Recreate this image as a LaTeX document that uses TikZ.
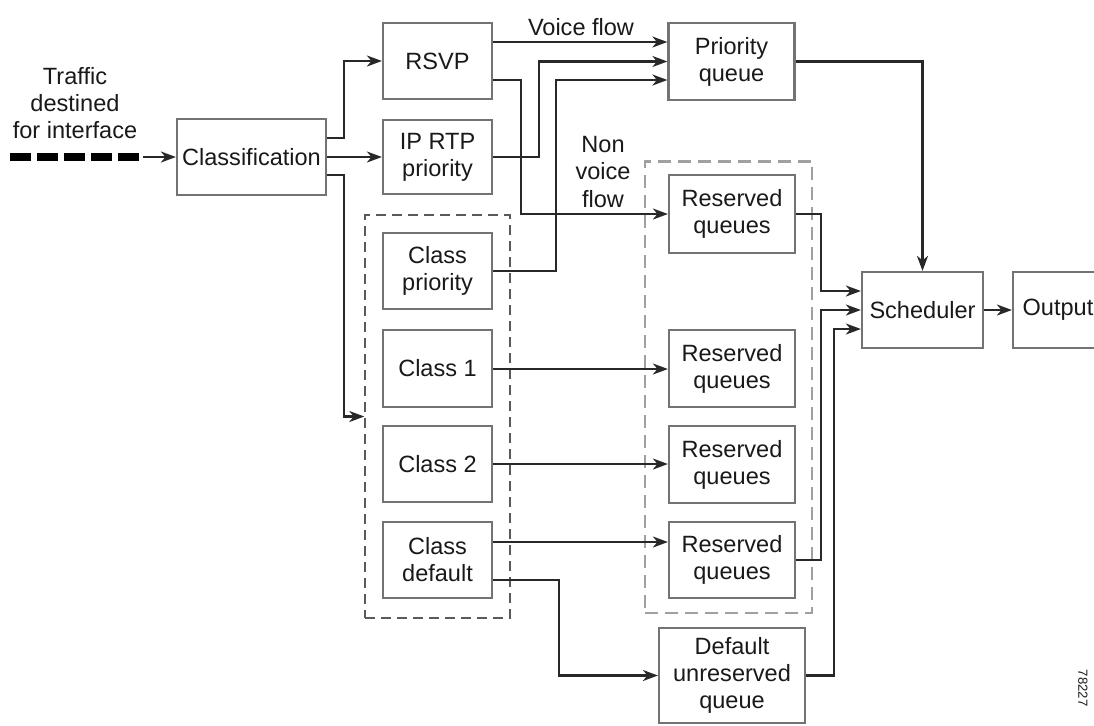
\documentclass[tikz,border=0pt]{standalone}
\usepackage{fontspec}
\setmainfont{Liberation Sans}
\usetikzlibrary{arrows.meta,calc}
\definecolor{boxgray}{RGB}{115,115,115}
\definecolor{linegray}{RGB}{40,40,40}
\definecolor{dashdark}{RGB}{90,90,90}
\definecolor{dashlight}{RGB}{160,160,160}
\definecolor{txt}{RGB}{25,25,25}
\begin{document}
\begin{tikzpicture}[x=0.02cm,y=-0.02cm,
  every node/.style={text=txt,font=\fontsize{13.4}{15.4}\selectfont,align=center,inner sep=0pt},
  box/.style={draw=boxgray,line width=0.045cm,minimum width=2.18cm,minimum height=1.52cm},
  qbox/.style={box,minimum width=2.52cm,minimum height=1.54cm},
  arr/.style={draw=linegray,line width=0.042cm,-{Stealth[length=0.3cm,width=0.22cm,inset=0.09cm]}},
  leftdash/.style={draw=dashdark,line width=0.03cm,dash pattern=on 0.2cm off 0.12cm},
  rightdash/.style={draw=dashlight,line width=0.058cm,dash pattern=on 0.26cm off 0.14cm},
  thickdash/.style={draw=black,line width=0.16cm,dash pattern=on 0.42cm off 0.12cm}]
\useasboundingbox (0,0) rectangle (1094,725);
\clip (0,0) rectangle (1094,725);

% dashed groups
\node[leftdash,minimum width=2.9cm,minimum height=8.06cm] (lbox) at (437.5,416.5) {};
\node[rightdash,minimum width=3.34cm,minimum height=9.04cm] (rbox) at (728.5,387) {};

% texts
\node (traffic) at (75,103) {Traffic\\destined\\for interface};
\node (voice) at (581,27) {Voice flow};
\node (nonvoice) at (603,172) {Non\\voice\\flow};
\node[font=\fontsize{7.5}{8}\selectfont,rotate=-90] (figid) at (1083,688) {78227};

% boxes
\node[box,minimum width=2.98cm] (cls) at (251.5,157) {Classification};
\node[box] (rsvp) at (437.5,61) {RSVP};
\node[box,minimum height=1.48cm] (iprtp) at (437.5,157) {IP RTP\\priority};
\node[qbox] (pq) at (731.5,61.5) {Priority\\queue};
\node[box] (cprio) at (437.5,271) {Class\\priority};
\node[box,minimum height=1.54cm] (c1) at (437.5,368.5) {Class 1};
\node[box] (c2) at (437.5,464) {Class 2};
\node[box] (cdef) at (437.5,560) {Class\\default};
\node[qbox,minimum height=1.56cm] (rq1) at (732,214) {Reserved\\queues};
\node[qbox] (rq2) at (732,368.5) {Reserved\\queues};
\node[qbox] (rq3) at (732,464.5) {Reserved\\queues};
\node[qbox,minimum height=1.52cm] (rq4) at (732,560) {Reserved\\queues};
\node[box,minimum width=2.92cm,minimum height=1.9cm] (dq) at (732,675.5) {Default\\unreserved\\queue};
\node[box,minimum width=2.42cm] (sch) at (922.5,310) {Scheduler};
\node[box,minimum width=1.8cm] (out) at (1058,310) {Output};

% input traffic
\coordinate (tin) at (10,157);
\coordinate (tend) at (143,157);
\draw[thickdash] (tin) -- (tend);
\draw[arr] (tend) -- (cls.west);

% classification outputs
\draw[arr] ($(cls.east)+(0,-19)$) -- ++(17,0) |- (rsvp.west);
\draw[arr] (cls.east) -- (iprtp.west);
\draw[arr] ($(cls.east)+(0,18)$) -- ++(17,0) |- (lbox.west);

% to priority queue
\draw[arr] ($(rsvp.east)+(0,-19)$) coordinate (ra) -- (ra -| pq.west);
\draw[arr] (iprtp.east) -- ++(46,0) |- (pq.west);
\draw[arr] (cprio.east) -- ++(63,0) |- ($(pq.west)+(0,18.5)$);

% to reserved queues
\draw[arr] ($(rsvp.east)+(0,19)$) -- ++(28,0) |- (rq1.west);
\draw[arr] ($(c1.east)+(0,0.5)$) coordinate (c1a) -- (c1a -| rq2.west);
\draw[arr] (c2.east) -- (c2.east -| rq3.west);
\draw[arr] ($(cdef.east)+(0,-18)$) coordinate (ca) -- (ca -| rq4.west);
\draw[arr] ($(cdef.east)+(0,20)$) -- ++(66,0) |- (dq.west);

% to scheduler
\draw[arr] (rq1.east) -- ++(25,0) |- ($(sch.west)+(0,-19)$);
\draw[arr] (rq4.east) -- ++(25,0) |- (sch.west);
\draw[arr] (dq.east) -- ++(28,0) |- ($(sch.west)+(0,19)$);
\draw[arr] (pq.east) -| (sch.north);
\draw[arr] (sch.east) -- (out.west);
\end{tikzpicture}
\end{document}
